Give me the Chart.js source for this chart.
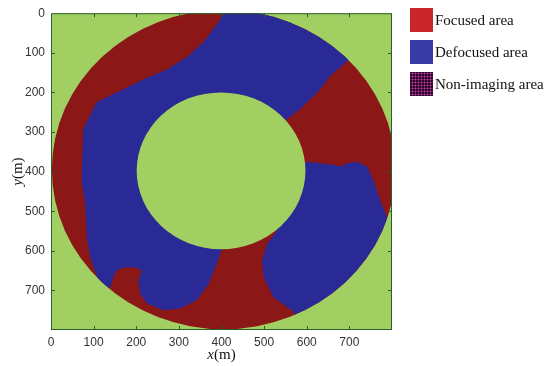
<!DOCTYPE html>
<html><head><meta charset="utf-8">
<script src="https://cdn.jsdelivr.net/npm/chart.js@4.4.0/dist/chart.umd.min.js"></script>
<style>html,body{margin:0;padding:0;background:#fff}#wrap{width:550px;height:366px;position:relative}</style>
</head><body><div id="wrap"><canvas id="c" width="550" height="366"></canvas></div>
<script>
// ---- data (metres) ----
const xTicks = [0,100,200,300,400,500,600,700];
const yTicks = [0,100,200,300,400,500,600,700];
const axisMax = 800;
const legendLabels = ['Focused area','Defocused area','Non-imaging area'];
// imaging ring: outer boundary [cx, cy, r], hole (non-imaging) [cx, cy, r]
const outerCircle = [405, 395, 403];
const innerCircle = [399, 398, 198];
// defocused region boundaries [x, y]
const defocusedUpper = [
  [410,-20],[760,-20],[760,70],[700,115],[687,129],[655,158],[632,192],[585,242],[554,267],
  [450,350],[420,560],[401,596],[389,633],[370,683],[342,725],[303,746],[264,750],[225,733],
  [209,708],[205,675],[213,650],[197,642],[170,642],[154,650],[146,667],[140,690],[125,708],
  [107,663],[92,617],[84,567],[80,483],[72,425],[72,400],[76,292],[107,225],[154,200],
  [217,167],[272,142],[320,110],[360,70],[395,20]
];
const defocusedLower = [
  [601,375],[632,379],[663,383],[679,387],[695,379],[718,375],[742,387],[757,425],[773,475],
  [789,517],[830,540],[830,830],[600,830],[575,775],[569,754],[522,717],[499,667],[495,625],
  [507,583],[530,550],[480,470],[560,400]
];

const GREEN = '#a2cf62', RED = '#8b1717', BLUE = '#2a2a96';
const FRAME = '#28602c';

function toPts(a){ return a.map(p=>({x:p[0], y:p[1]})); }

const pat = document.createElement('canvas'); pat.width = 3; pat.height = 3;
{ const g = pat.getContext('2d'); g.fillStyle = '#2e0729'; g.fillRect(0,0,3,3);
  g.fillStyle = '#6e1a63'; g.fillRect(1,0,1,3); g.fillRect(0,1,3,1);
  g.fillStyle = '#c844a8'; g.fillRect(1,1,1,1); }

const mapPlugin = {
  id: 'map',
  beforeDatasetsDraw(chart){
    const {ctx, chartArea:a, scales:{x, y}} = chart;
    const ell = c => {
      const px = x.getPixelForValue(c[0]), py = y.getPixelForValue(c[1]);
      const rx = Math.abs(x.getPixelForValue(c[0]+c[2]) - px);
      const ry = Math.abs(y.getPixelForValue(c[1]+c[2]) - py);
      ctx.beginPath(); ctx.ellipse(px, py, rx, ry, 0, 0, Math.PI*2);
    };
    ctx.save();
    ctx.beginPath(); ctx.rect(a.left, a.top, a.width, a.height); ctx.clip();
    ctx.fillStyle = GREEN; ctx.fillRect(a.left, a.top, a.width, a.height);
    ctx.save();
    ell(outerCircle); ctx.fillStyle = RED; ctx.fill(); ctx.clip();
    chart.data.datasets.forEach(ds => {
      if (!ds.region) return;
      ctx.beginPath();
      ds.data.forEach((p,i) => {
        const X = x.getPixelForValue(p.x), Y = y.getPixelForValue(p.y);
        if (i) ctx.lineTo(X, Y); else ctx.moveTo(X, Y);
      });
      ctx.closePath(); ctx.fillStyle = ds.regionColor; ctx.fill();
    });
    ctx.restore();
    ell(innerCircle); ctx.fillStyle = GREEN; ctx.fill();
    ctx.restore();
    // frame and inward ticks
    ctx.save();
    ctx.strokeStyle = FRAME; ctx.lineWidth = 1;
    ctx.strokeRect(a.left+0.5, a.top+0.5, a.width-1, a.height-1);
    ctx.beginPath();
    xTicks.forEach(v => { if (v<=0) return; const X = Math.round(x.getPixelForValue(v))+0.5;
      ctx.moveTo(X, a.bottom); ctx.lineTo(X, a.bottom-4); ctx.moveTo(X, a.top); ctx.lineTo(X, a.top+4); });
    yTicks.forEach(v => { if (v<=0) return; const Y = Math.round(y.getPixelForValue(v))+0.5;
      ctx.moveTo(a.left, Y); ctx.lineTo(a.left+4, Y); ctx.moveTo(a.right, Y); ctx.lineTo(a.right-4, Y); });
    ctx.stroke();
    ctx.restore();
  },
  afterDraw(chart){
    const {ctx, chartArea:a} = chart;
    ctx.save();
    ctx.fillStyle = '#111';
    ctx.textBaseline = 'middle';
    const serif = '"Liberation Serif","Times New Roman",serif';
    const drawTitle = (cx, cy, rot, v) => {
      ctx.save(); ctx.translate(cx, cy); ctx.rotate(rot);
      ctx.font = 'italic 15px ' + serif; const w1 = ctx.measureText(v).width;
      ctx.font = '15px ' + serif; const w2 = ctx.measureText('(m)').width;
      const s = -(w1+w2)/2;
      ctx.textAlign = 'left';
      ctx.font = 'italic 15px ' + serif; ctx.fillText(v, s, 0);
      ctx.font = '15px ' + serif; ctx.fillText('(m)', s+w1, 0);
      ctx.restore();
    };
    drawTitle((a.left+a.right)/2, 355, 0, 'x');
    drawTitle(18, (a.top+a.bottom)/2, -Math.PI/2, 'y');
    // legend
    const fills = ['#c9262b', '#3a3aa6', ctx.createPattern(pat, 'repeat')];
    legendLabels.forEach((t, i) => {
      const yy = 8 + i*32;
      ctx.fillStyle = fills[i]; ctx.fillRect(410, yy, 23, 24);
      ctx.fillStyle = '#111'; ctx.font = '15px ' + serif; ctx.textAlign = 'left';
      ctx.fillText(t, 435, yy + 13);
    });
    ctx.restore();
  }
};

new Chart(document.getElementById('c'), {
  type: 'scatter',
  data: { datasets: [
    { label: legendLabels[1], data: toPts(defocusedUpper), region: true, regionColor: BLUE, pointRadius: 0, showLine: false },
    { label: legendLabels[1], data: toPts(defocusedLower), region: true, regionColor: BLUE, pointRadius: 0, showLine: false }
  ]},
  options: {
    responsive: false, animation: false, events: [],
    layout: { padding: { left: 0, right: 158, top: 10, bottom: 0 } },
    plugins: { legend: { display: false }, tooltip: { enabled: false } },
    scales: {
      x: { type: 'linear', min: 0, max: axisMax, position: 'bottom',
        afterFit(s){ s.height = 36; },
        afterBuildTicks(s){ s.ticks = xTicks.map(v => ({value: v})); },
        grid: { display: false, drawTicks: false }, border: { display: false },
        ticks: { autoSkip: false, maxRotation: 0, padding: 5, color: '#333',
          font: { family: '"Liberation Sans", Arial, sans-serif', size: 12 } } },
      y: { type: 'linear', min: 0, max: axisMax, reverse: true,
        afterFit(s){ s.width = 51; },
        afterBuildTicks(s){ s.ticks = yTicks.map(v => ({value: v})); },
        grid: { display: false, drawTicks: false }, border: { display: false },
        ticks: { autoSkip: false, padding: 6, color: '#333',
          font: { family: '"Liberation Sans", Arial, sans-serif', size: 12 } } }
    }
  },
  plugins: [mapPlugin]
});
</script></body></html>
